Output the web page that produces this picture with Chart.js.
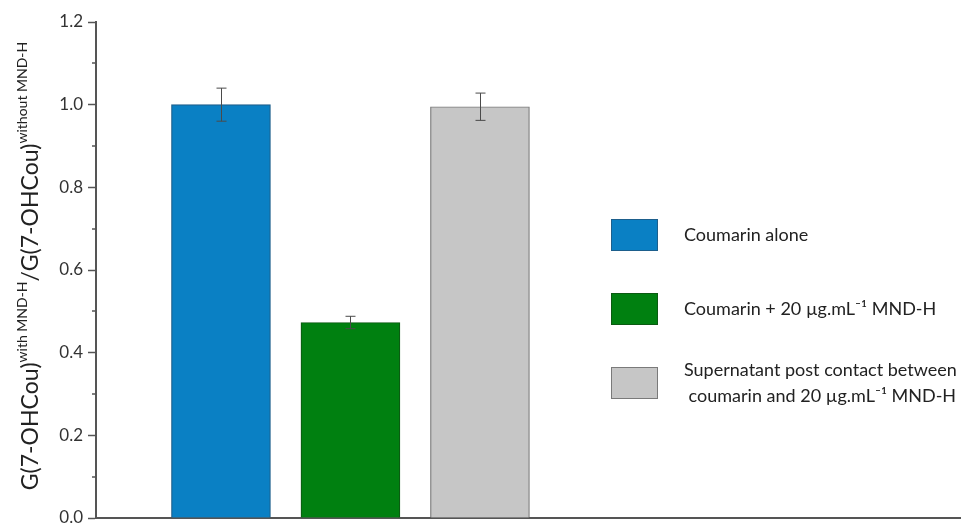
<!DOCTYPE html>
<html>
<head>
<meta charset="utf-8">
<script src="https://cdn.jsdelivr.net/npm/chart.js@4/dist/chart.umd.min.js"></script>
<style>
  html, body { margin: 0; padding: 0; background: #fff; }
  #wrap { width: 961px; height: 527px; }
</style>
</head>
<body>
<div id="wrap"><canvas id="grafico"></canvas></div>
<script>
const posicoes = [1, 2, 3];
const valores = [1.0, 0.473, 0.995];
const erros = [0.04, 0.015, 0.033];
const rotulos = [
    ['Coumarin alone'],
    ['Coumarin + 20 \u00b5g.mL\u207b\u00b9 MND-H'],
    ['Supernatant post contact between', ' coumarin and 20 \u00b5g.mL\u207b\u00b9 MND-H']
];
const cores = ['#0a80c4', '#008010', '#c6c6c6'];
const bordas = ['#1d5f8c', '#0b5a12', '#7a7a7a'];
const ticksY = [0, 0.2, 0.4, 0.6, 0.8, 1.0, 1.2];

const fonte = 'Lato, "Open Sans", sans-serif';

const barrasErro = {
    id: 'barrasErro',
    afterDatasetsDraw(chart) {
        const ctx = chart.ctx;
        const sx = chart.scales.x, sy = chart.scales.y;
        ctx.save();
        ctx.strokeStyle = '#4a4a4a';
        ctx.lineWidth = 1;
        posicoes.forEach((p, i) => {
            const x = Math.round(sx.getPixelForValue(p)) + 0.5;
            const yt = sy.getPixelForValue(valores[i] + erros[i]);
            const yb = sy.getPixelForValue(valores[i] - erros[i]);
            ctx.beginPath();
            ctx.moveTo(x, yt); ctx.lineTo(x, yb);
            ctx.moveTo(x - 5, yt); ctx.lineTo(x + 5, yt);
            ctx.moveTo(x - 5, yb); ctx.lineTo(x + 5, yb);
            ctx.stroke();
        });
        // ticks menores
        const left = chart.chartArea.left;
        ctx.strokeStyle = '#555';
        ctx.lineWidth = 1.5;
        for (let v = 0.1; v < 1.2; v += 0.2) {
            const y = Math.round(sy.getPixelForValue(v));
            ctx.beginPath();
            ctx.moveTo(left - 4, y); ctx.lineTo(left, y);
            ctx.stroke();
        }
        ctx.restore();
    }
};

const legendaETitulo = {
    id: 'legendaETitulo',
    afterDraw(chart) {
        const ctx = chart.ctx;
        ctx.save();
        // legenda
        const boxX = 611, boxW = 47, boxH = 32;
        const centros = [235, 309, 383];
        ctx.font = '18px ' + fonte;
        ctx.textBaseline = 'middle';
        rotulos.forEach((linhas, i) => {
            const cy = centros[i];
            ctx.fillStyle = cores[i];
            ctx.fillRect(boxX, cy - boxH / 2, boxW, boxH);
            ctx.strokeStyle = bordas[i];
            ctx.lineWidth = 1;
            ctx.strokeRect(boxX + 0.5, cy - boxH / 2 + 0.5, boxW - 1, boxH - 1);
            ctx.fillStyle = '#222';
            const alt = 26;
            const y0 = cy - (linhas.length - 1) * alt / 2;
            linhas.forEach((t, j) => ctx.fillText(t, 684, y0 + j * alt));
        });
        // titulo do eixo y com sobrescritos
        const partes = [
            ['G(7-OHCou)', false],
            ['with MND-H', true],
            ['/G(7-OHCou)', false],
            ['without MND-H', true]
        ];
        const fGrande = '23px ' + fonte, fPequena = '14px ' + fonte;
        let total = 0;
        partes.forEach(([t, s]) => { ctx.font = s ? fPequena : fGrande; total += ctx.measureText(t).width; });
        ctx.translate(38, 266);
        ctx.rotate(-Math.PI / 2);
        ctx.fillStyle = '#222';
        ctx.textBaseline = 'alphabetic';
        let x = -total / 2;
        partes.forEach(([t, s]) => {
            ctx.font = s ? fPequena : fGrande;
            ctx.fillText(t, x, s ? -11 : 0);
            x += ctx.measureText(t).width;
        });
        ctx.restore();
    }
};

function plotar() {
    const ctx = document.getElementById('grafico').getContext('2d');
    const datasets = posicoes.map((p, i) => ({
        label: rotulos[i].join(' '),
        data: [{ x: p, y: valores[i] }],
        backgroundColor: cores[i],
        borderColor: bordas[i],
        borderWidth: 1.2,
        barThickness: 99,
        grouped: false
    }));

    new Chart(ctx, {
        type: 'bar',
        data: { datasets: datasets },
        plugins: [barrasErro, legendaETitulo],
        options: {
            animation: false,
            responsive: true,
            maintainAspectRatio: false,
            layout: { padding: { top: 22, right: 0, bottom: 0, left: 0 } },
            plugins: {
                legend: { display: false },
                tooltip: { enabled: false }
            },
            scales: {
                x: {
                    type: 'linear',
                    offset: false,
                    min: 0.035,
                    max: 6.715,
                    afterFit(scale) { scale.height = 9; },
                    ticks: { display: false },
                    grid: { display: false },
                    border: { display: true, color: '#555', width: 2 }
                },
                y: {
                    min: 0,
                    max: 1.2,
                    afterFit(scale) {
                        scale.width = 96;
                        scale.paddingTop = 0;
                        scale.paddingBottom = 0;
                    },
                    afterBuildTicks(scale) { scale.ticks = ticksY.map(v => ({ value: v })); },
                    ticks: {
                        color: '#333',
                        padding: 5,
                        font: { family: fonte, size: 17 },
                        callback: v => v.toFixed(1)
                    },
                    grid: {
                        drawOnChartArea: false,
                        tickLength: 8,
                        tickWidth: 1.5,
                        tickColor: '#555'
                    },
                    border: { display: true, color: '#555', width: 2 }
                }
            }
        }
    });
}

window.addEventListener('DOMContentLoaded', plotar);
</script>
</body>
</html>
